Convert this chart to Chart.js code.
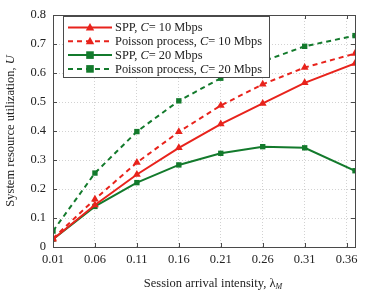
<!DOCTYPE html>
<html>
<head>
<meta charset="utf-8">
<script src="https://cdn.jsdelivr.net/npm/chart.js@4/dist/chart.umd.min.js"></script>
<style>
  html, body { margin: 0; padding: 0; background: #fff; }
  #wrap { width: 374px; height: 291px; }
</style>
</head>
<body>
<div id="wrap"><canvas id="chart" width="374" height="291"></canvas></div>
<script>
// session arrival intensity (last point sits on the right edge)
const lambdas = [0.01, 0.06, 0.11, 0.16, 0.21, 0.26, 0.31, 0.37];
const tickValues = [0.01, 0.06, 0.11, 0.16, 0.21, 0.26, 0.31, 0.36];

const sppC10 = [0.027, 0.145, 0.25, 0.342, 0.424, 0.495, 0.566, 0.633];
const poissonC10 = [0.03, 0.165, 0.291, 0.397, 0.488, 0.561, 0.619, 0.667];
const sppC20 = [0.027, 0.14, 0.222, 0.283, 0.323, 0.346, 0.342, 0.263];
const poissonC20 = [0.055, 0.255, 0.398, 0.504, 0.582, 0.64, 0.692, 0.729];

const RED = '#e8231c';
const GREEN = '#137a2c';
const FONT = '"Liberation Serif", "Times New Roman", serif';

function pts(ys) {
    return ys.map((y, i) => ({ x: lambdas[i], y: y }));
}

function series(label, ys, color, dashed, marker) {
    return {
        label: label,
        data: pts(ys),
        borderColor: color,
        backgroundColor: color,
        borderWidth: 2,
        borderDash: dashed ? [5, 4] : [],
        pointStyle: marker,
        pointRadius: marker === 'triangle' ? 4.5 : 3.8,
        pointBorderWidth: 0,
        tension: 0,
    };
}

// legend entries: [text before italic, italic part, text after]
const legendItems = [
    { parts: ['SPP, ', 'C', '= 10 Mbps'], color: RED, dashed: false, marker: 'triangle' },
    { parts: ['Poisson process, ', 'C', '= 10 Mbps'], color: RED, dashed: true, marker: 'triangle' },
    { parts: ['SPP, ', 'C', '= 20 Mbps'], color: GREEN, dashed: false, marker: 'rect' },
    { parts: ['Poisson process, ', 'C', '= 20 Mbps'], color: GREEN, dashed: true, marker: 'rect' },
];

function drawMarker(ctx, marker, x, y, color) {
    ctx.fillStyle = color;
    ctx.beginPath();
    if (marker === 'triangle') {
        ctx.moveTo(x, y - 4.5);
        ctx.lineTo(x + 4.2, y + 3);
        ctx.lineTo(x - 4.2, y + 3);
    } else {
        ctx.rect(x - 3.8, y - 3.8, 7.6, 7.6);
    }
    ctx.closePath();
    ctx.fill();
}

function drawParts(ctx, parts, x, y, size) {
    parts.forEach((p, i) => {
        ctx.font = (i === 1 ? 'italic ' : '') + size + 'px ' + FONT;
        ctx.fillText(p, x, y);
        x += ctx.measureText(p).width;
    });
}

const framePlugin = {
    id: 'frame',
    afterDatasetsDraw(chart) {
        const ctx = chart.ctx;
        const a = chart.chartArea;
        const xs = chart.scales.x, ys = chart.scales.y;
        ctx.save();
        // box
        ctx.strokeStyle = '#4a4a4a';
        ctx.lineWidth = 1;
        ctx.setLineDash([]);
        ctx.strokeRect(a.left + 0.5, a.top + 0.5, a.right - a.left, a.bottom - a.top);
        // inward ticks
        ctx.beginPath();
        tickValues.forEach(v => {
            const px = Math.round(xs.getPixelForValue(v)) + 0.5;
            ctx.moveTo(px, a.bottom); ctx.lineTo(px, a.bottom - 4);
            ctx.moveTo(px, a.top); ctx.lineTo(px, a.top + 4);
        });
        for (let v = 0; v <= 0.8001; v += 0.1) {
            const py = Math.round(ys.getPixelForValue(v)) + 0.5;
            ctx.moveTo(a.left, py); ctx.lineTo(a.left + 4, py);
            ctx.moveTo(a.right, py); ctx.lineTo(a.right - 4, py);
        }
        ctx.stroke();
        ctx.restore();
    },
    afterDraw(chart) {
        const ctx = chart.ctx;
        const a = chart.chartArea;
        ctx.save();
        // legend box
        const bx = 63.5, by = 16.5, bw = 206, bh = 61;
        ctx.fillStyle = '#fff';
        ctx.fillRect(bx, by, bw, bh);
        ctx.strokeStyle = '#4a4a4a';
        ctx.lineWidth = 1;
        ctx.strokeRect(bx, by, bw, bh);
        ctx.textBaseline = 'middle';
        legendItems.forEach((it, i) => {
            const y = 27.5 + i * 13.8;
            ctx.strokeStyle = it.color;
            ctx.lineWidth = 2;
            ctx.setLineDash(it.dashed ? [5, 4] : []);
            ctx.beginPath();
            ctx.moveTo(68, y); ctx.lineTo(112, y);
            ctx.stroke();
            ctx.setLineDash([]);
            drawMarker(ctx, it.marker, 90, y, it.color);
            ctx.fillStyle = '#222';
            drawParts(ctx, it.parts, 115, y + 0.5, 12.4);
        });

        // y axis title
        ctx.fillStyle = '#222';
        ctx.save();
        ctx.translate(11, (a.top + a.bottom) / 2);
        ctx.rotate(-Math.PI / 2);
        ctx.textBaseline = 'middle';
        const t1 = 'System resource utilization, ';
        ctx.font = 'italic 12.5px ' + FONT;
        const wU = ctx.measureText('U').width;
        ctx.font = '12.5px ' + FONT;
        const w1 = ctx.measureText(t1).width;
        let sx = -(w1 + wU) / 2;
        ctx.fillText(t1, sx, 0);
        ctx.font = 'italic 12.5px ' + FONT;
        ctx.fillText('U', sx + w1, 0);
        ctx.restore();

        // x axis title
        ctx.textBaseline = 'alphabetic';
        ctx.font = '12.5px ' + FONT;
        const t2 = 'Session arrival intensity, \u03bb';
        const w2 = ctx.measureText(t2).width;
        ctx.font = 'italic 8px ' + FONT;
        const wM = ctx.measureText('M').width;
        let tx = 213 - (w2 + wM) / 2;
        ctx.font = '12.5px ' + FONT;
        ctx.fillText(t2, tx, 287);
        ctx.font = 'italic 8px ' + FONT;
        ctx.fillText('M', tx + w2, 289);
        ctx.restore();
    }
};

new Chart(document.getElementById('chart'), {
    type: 'line',
    data: {
        datasets: [
            series('SPP, C= 10 Mbps', sppC10, RED, false, 'triangle'),
            series('Poisson process, C= 10 Mbps', poissonC10, RED, true, 'triangle'),
            series('SPP, C= 20 Mbps', sppC20, GREEN, false, 'rect'),
            series('Poisson process, C= 20 Mbps', poissonC20, GREEN, true, 'rect'),
        ],
    },
    options: {
        responsive: false,
        animation: false,
        layout: { padding: { left: 0, right: 19, top: 15, bottom: 0 } },
        plugins: {
            legend: { display: false },
            tooltip: { enabled: false },
        },
        scales: {
            x: {
                type: 'linear',
                min: 0.01,
                max: 0.37,
                afterBuildTicks: (scale) => {
                    scale.ticks = tickValues.map(v => ({ value: v }));
                },
                afterFit: (scale) => { scale.height = 44; },
                ticks: {
                    color: '#222',
                    font: { family: FONT, size: 12.5 },
                    padding: 5,
                    maxRotation: 0,
                    callback: (v) => v.toFixed(2),
                },
                grid: {
                    color: '#d2d2d2',
                    lineWidth: 1,
                    drawTicks: false,
                },
                border: { display: false, dash: [1, 2] },
            },
            y: {
                min: 0,
                max: 0.8,
                afterFit: (scale) => { scale.width = 53; },
                ticks: {
                    stepSize: 0.1,
                    color: '#222',
                    font: { family: FONT, size: 12.5 },
                    padding: 7,
                    callback: (v) => v === 0 ? '0' : v.toFixed(1),
                },
                grid: {
                    color: '#d2d2d2',
                    lineWidth: 1,
                    drawTicks: false,
                },
                border: { display: false, dash: [1, 2] },
            },
        },
    },
    plugins: [framePlugin],
});
</script>
</body>
</html>
